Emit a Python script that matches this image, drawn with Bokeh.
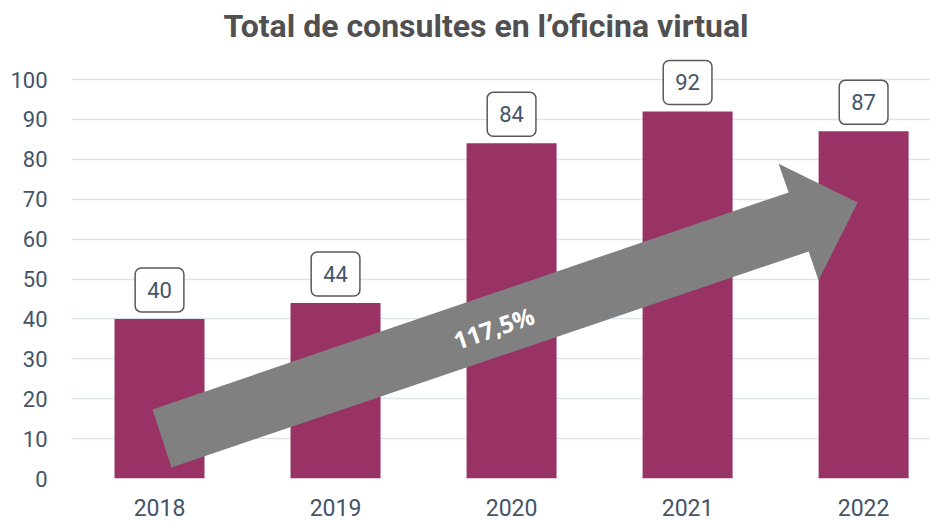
from bokeh.plotting import figure
from bokeh.models import Range1d, FixedTicker, ColumnDataSource
from bokeh.core.properties import value
from bokeh.embed import file_html
from bokeh.resources import INLINE

# ---- data ----
years = ["2018", "2019", "2020", "2021", "2022"]
consultes = [40, 44, 84, 92, 87]
y_ticks = [0, 10, 20, 30, 40, 50, 60, 70, 80, 90, 100]
title_text = "Total de consultes en l\u2019oficina virtual"
growth_label = "117,5%"
# decorative growth arrow outline (in data coordinates: x = bar index, y = value)
arrow_x = [-0.04, 3.574, 3.517, 3.966, 3.744, 3.688, 0.068]
arrow_y = [17.3, 71.7, 78.9, 69.2, 49.6, 56.9, 2.76]
arrow_label_x = [1.898]
arrow_label_y = [37.8]

idx = list(range(len(years)))
src = ColumnDataSource(dict(x=idx, v=consultes, lab=[str(v) for v in consultes]))

# the frame extends to the top of the canvas so the title can sit inside it
p = figure(width=933, height=520, output_backend="svg", toolbar_location=None,
           x_range=Range1d(-0.5, 4.38), y_range=Range1d(0, 119.8),
           min_border_left=71, min_border_right=3, min_border_bottom=42, min_border_top=0)
p.outline_line_color = None
p.background_fill_color = "white"

# axes
for ax in (p.xaxis[0], p.yaxis[0]):
    ax.axis_line_color = None
    ax.major_tick_line_color = None
    ax.minor_tick_line_color = None
    ax.major_tick_out = 0
    ax.major_tick_in = 0
    ax.minor_tick_out = 0
    ax.major_label_text_font = "Roboto"
    ax.major_label_text_color = "#44546a"

p.yaxis.major_label_text_font_size = "22px"
p.xaxis.major_label_text_font_size = "23px"
p.yaxis.ticker = FixedTicker(ticks=y_ticks)
p.yaxis.major_label_standoff = 24
p.xaxis.ticker = FixedTicker(ticks=idx)
p.xaxis.major_label_overrides = {i: y for i, y in zip(idx, years)}
p.xaxis.major_label_standoff = 20

p.xgrid.visible = False
p.ygrid.grid_line_color = "#dde3ea"
p.ygrid.grid_line_width = 1.5

# title
p.text(x=[1.855], y=[113.3], text=[title_text], text_align="center",
       text_baseline="alphabetic", text_color="#505050",
       text_font=value("Roboto"), text_font_size=value("32px"), text_font_style="bold")

# bars
p.vbar(x="x", top="v", bottom=0, width=90 / 176, source=src,
       fill_color="#993366", line_color=None)

# growth arrow
p.patch(arrow_x, arrow_y, fill_color="#808080", line_color=None)
p.text(x=arrow_label_x, y=arrow_label_y, text=[growth_label], angle=0.33,
       text_align="center", text_baseline="middle", text_color="white",
       text_font=value("Open Sans"), text_font_size=value("24px"),
       text_font_style="bold")

# value labels in rounded boxes
p.text(x="x", y="v", text="lab", source=src,
       text_align="center", text_baseline="bottom", y_offset=-7,
       text_color="#44546a", text_font=value("Roboto"), text_font_size=value("22px"),
       background_fill_color="white", border_line_color="#595959",
       border_line_width=1.5, border_radius=6, padding=(12, 14))

open("out.html", "w").write(file_html(p, INLINE))
